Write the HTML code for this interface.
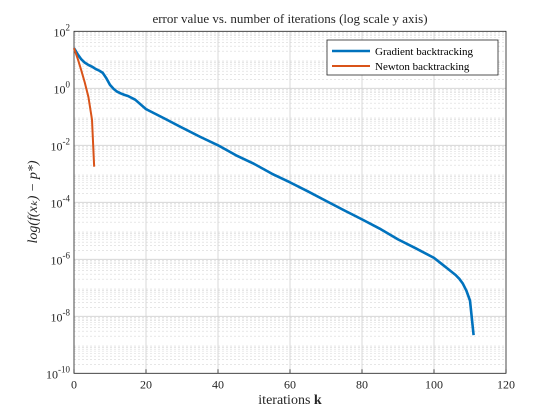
<!DOCTYPE html>
<html><head><meta charset="utf-8"><style>
html,body{margin:0;padding:0;background:#fff;}
svg{display:block;font-family:"Liberation Serif",serif;}
</style></head><body>
<svg id="c" width="560" height="420"></svg>
<script>
const xTicks=[0,20,40,60,80,100,120];
const yDecades=[-10,-8,-6,-4,-2,0,2];
const gradK=[0,1,2,3,4,5,6,7,8,9,10,11,12,13,14,15,17,20,25,30,35,40,45,50,55,60,65,70,75,80,85,90,95,100,102,104,106,107,108,109,110,111];
const gradLog=[1.41,1.2,1.02,0.9,0.82,0.76,0.68,0.62,0.54,0.35,0.12,-0.02,-0.12,-0.18,-0.23,-0.27,-0.4,-0.73,-1.05,-1.38,-1.7,-2.0,-2.35,-2.65,-3.0,-3.3,-3.62,-3.95,-4.28,-4.6,-4.93,-5.3,-5.62,-5.95,-6.15,-6.35,-6.55,-6.68,-6.85,-7.1,-7.45,-8.66];
const newtK=[0,1,2,3,4,5,5.6];
const newtLog=[1.41,1.05,0.64,0.2,-0.3,-1.1,-2.75];
const L=74,R=506,T=31.3,B=373.3;
const X=k=>L+(k-0)/120*(R-L);
const Y=l=>B-(l+10)/12*(B-T);
const s=document.getElementById('c');const NS='http://www.w3.org/2000/svg';
function el(t,a,p){const e=document.createElementNS(NS,t);for(const k in a)e.setAttribute(k,a[k]);(p||s).appendChild(e);return e;}
for(let d=-10;d<2;d++)for(let m=2;m<10;m++){const y=Y(d+Math.log10(m));
const g=el('line',{x1:L,x2:R,y1:y,y2:y,stroke:'#d8d8d8','stroke-width':0.6,'stroke-dasharray':'2,2'});
}
yDecades.forEach(d=>{const y=Y(d);const g=el('line',{x1:L,x2:R,y1:y,y2:y,stroke:'#d0d0d0','stroke-width':0.8});

const t=el('text',{x:L-4,y:y+5,'text-anchor':'end','font-size':12,fill:'#262626'});t.innerHTML='10<tspan dy="-6" font-size="9">'+d+'</tspan>';
});
xTicks.forEach(k=>{const x=X(k);const g=el('line',{x1:x,x2:x,y1:T,y2:B,stroke:'#d0d0d0','stroke-width':0.8});

el('line',{x1:x,x2:x,y1:B,y2:B-4,stroke:'#262626','stroke-width':0.8});
const t=el('text',{x:x,y:B+15,'text-anchor':'middle','font-size':12,fill:'#262626'});t.textContent=k;
});
const ax=el('rect',{x:L,y:T,width:R-L,height:B-T,fill:'none',stroke:'#262626','stroke-width':0.8});

function line(ks,ls,c,w,n){const p=el('polyline',{points:ks.map((k,i)=>X(k)+','+Y(ls[i])).join(' '),fill:'none',stroke:c,'stroke-width':w,'stroke-linejoin':'round'});
}
line(gradK,gradLog,'#0072bd',2.6,'gradient-series');
line(newtK,newtLog,'#d95319',2,'newton-series');
const ti=el('text',{x:290,y:23,'text-anchor':'middle','font-size':13,fill:'#262626'});ti.textContent='error value vs. number of iterations (log scale y axis)';

const xl=el('text',{x:290,y:404,'text-anchor':'middle','font-size':14,fill:'#262626'});xl.innerHTML='iterations <tspan font-weight="bold">k</tspan>';

const yl=el('text',{x:0,y:0,'text-anchor':'middle','font-size':14,fill:'#262626','font-style':'italic',transform:'translate(37,202) rotate(-90)'});yl.textContent='log(f(xₖ) − p*)';

const lg=el('g',{});
el('rect',{x:327,y:40,width:171,height:35,fill:'#fff',stroke:'#262626','stroke-width':0.8},lg);
el('line',{x1:332,x2:370,y1:51,y2:51,stroke:'#0072bd','stroke-width':2.6},lg);
el('line',{x1:332,x2:370,y1:66,y2:66,stroke:'#d95319','stroke-width':2},lg);
const a=el('text',{x:375,y:55,'font-size':11,fill:'#000'},lg);a.textContent='Gradient backtracking';

const b=el('text',{x:375,y:70,'font-size':11,fill:'#000'},lg);b.textContent='Newton backtracking';

</script>
</body></html>
